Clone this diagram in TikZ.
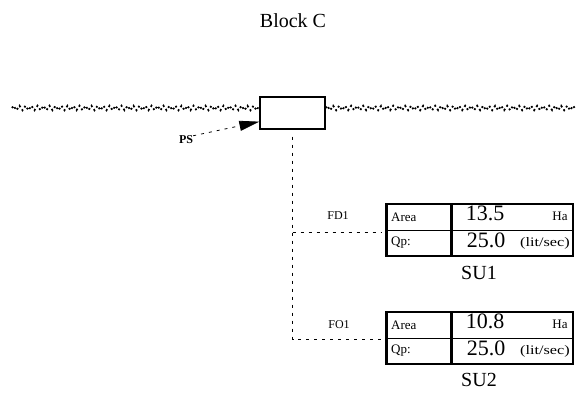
\documentclass[tikz,border=0pt]{standalone}
\usepackage{fontspec}
\setmainfont{Liberation Serif}
\usetikzlibrary{arrows.meta,decorations.pathmorphing,calc}
\begin{document}
\begin{tikzpicture}[x=1pt,y=-1pt,
  lbl/.style={inner sep=0pt, font=\fontsize{12}{13}\selectfont},
  cellsmall/.style={inner sep=0pt, anchor=west, font=\fontsize{13}{14}\selectfont},
  bignum/.style={inner sep=0pt, font=\fontsize{22}{24}\selectfont},
  unitt/.style={inner sep=0pt, font=\fontsize{13}{14}\selectfont},
  sulbl/.style={inner sep=0pt, font=\fontsize{20}{22}\selectfont},
  tablebox/.style={draw, line width=1.3pt, minimum width=186pt, minimum height=52pt, inner sep=0pt},
  thickrule/.style={line width=2.4pt},
  thinrule/.style={line width=1pt},
  wavy/.style={line width=1.8pt, dash pattern=on 1.8pt off 2.6pt, decorate, decoration={zigzag, segment length=6pt, amplitude=2.2pt}},
  flow/.style={line width=0.8pt, dash pattern=on 3pt off 5pt}
]
\useasboundingbox (0,0) rectangle (576,393);
\node[font=\fontsize{20}{22}\selectfont, inner sep=0pt] (title) at (293,21) {Block C};
\node[draw, line width=1.3pt, minimum width=65pt, minimum height=32pt, inner sep=0pt] (box) at (292.5,113) {};
\coordinate (wl) at (12,108);
\coordinate (wr) at (576,108);
\draw[wavy] (wl) -- (wl -| box.west);
\draw[wavy] (box.east |- wr) -- (wr);
\node[lbl, font=\fontsize{12}{13}\selectfont\bfseries] (ps) at (186,140) {PS};
\draw[flow, -{Triangle[length=20pt,width=10pt]}] (ps.north east) -- ($(box.south west)+(0,-8)$);
% tables
\node[tablebox] (t1) at (480,230) {};
\node[tablebox] (t2) at (480,338) {};
\foreach \t in {t1,t2}{
  \draw[thinrule] (\t.west) -- (\t.east);
  \draw[thickrule] (\t.north west) -- (\t.south west);
  \draw[thickrule] ($(\t.north west)+(65,0)$) -- ($(\t.south west)+(65,0)$);
}
% connectors
\coordinate (j1) at (box.south |- t1.center);
\coordinate (j2) at (box.south |- t2.center);
\draw[flow] ($(box.south)+(0,7)$) -- ($(j2)+(0,1)$) -- ($(j2 -| t2.west)+(-5,1)$);
\draw[flow] ($(j1)+(0,2)$) -- ($(j1 -| t1.west)+(-5,2)$);
\node[lbl] (fd1) at (338,216) {FD1};
\node[lbl] (fo1) at (339,325) {FO1};
% table 1 text
\node[cellsmall] (a1) at (391,217) {Area};
\node[bignum] (v1) at (485,213) {13.5};
\node[unitt] (h1) at (560,216) {Ha};
\node[cellsmall] (q1) at (391,243) {Qp:};
\node[bignum] (p1) at (486,240) {25.0};
\node[unitt] (u1) at (545,243) {\scalebox{1.25}[1]{(lit/sec)}};
\node[sulbl] (su1) at (479,273) {SU1};
% table 2 text
\node[cellsmall] (a2) at (391,325) {Area};
\node[bignum] (v2) at (485,321) {10.8};
\node[unitt] (h2) at (560,324) {Ha};
\node[cellsmall] (q2) at (391,351) {Qp:};
\node[bignum] (p2) at (486,348) {25.0};
\node[unitt] (u2) at (545,351) {\scalebox{1.25}[1]{(lit/sec)}};
\node[sulbl] (su2) at (479,380) {SU2};
\end{tikzpicture}
\end{document}
